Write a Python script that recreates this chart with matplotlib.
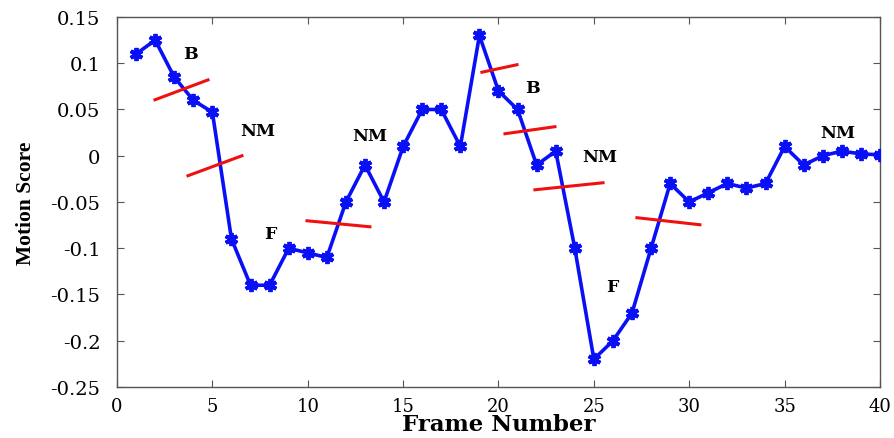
import numpy as np
import matplotlib.pyplot as plt

plt.rcParams['font.family'] = ['DejaVu Serif']

frames = np.arange(1, 41)
motion_score = [0.11, 0.125, 0.085, 0.06, 0.047, -0.09, -0.14, -0.14, -0.10, -0.105,
                -0.11, -0.05, -0.01, -0.05, 0.01, 0.05, 0.05, 0.01, 0.13, 0.07,
                0.05, -0.01, 0.005, -0.10, -0.22, -0.20, -0.17, -0.10, -0.03, -0.05,
                -0.04, -0.03, -0.035, -0.03, 0.01, -0.01, 0.0, 0.005, 0.002, 0.001]

# red boundary segments between motion phases: (x0, y0, x1, y1)
boundaries = [
    (1.99, 0.0605, 4.77, 0.082),
    (3.72, -0.0216, 6.55, 0.0),
    (9.96, -0.0703, 13.26, -0.0768),
    (19.13, 0.0903, 20.97, 0.0984),
    (20.34, 0.0238, 22.96, 0.0314),
    (21.91, -0.0368, 25.48, -0.0292),
    (27.26, -0.067, 30.56, -0.0746),
]

# phase labels: (x, y, text)
phase_labels = [
    (3.83, 0.110, 'B'),
    (7.39, 0.027, 'NM'),
    (13.26, 0.022, 'NM'),
    (8.02, -0.084, 'F'),
    (21.8, 0.074, 'B'),
    (25.3, -0.001, 'NM'),
    (25.95, -0.141, 'F'),
    (37.8, 0.025, 'NM'),
]

fig = plt.figure(figsize=(8.94, 4.39), dpi=100)
ax = fig.add_axes([0.1309, 0.1162, 0.8534, 0.8428])

ax.plot(frames, motion_score, color='#0a10f5', linewidth=2.6,
        marker=(6, 2, 0), markersize=9.5, markeredgewidth=2.8, zorder=3)

for x0, y0, x1, y1 in boundaries:
    ax.plot([x0, x1], [y0, y1], color='#f01010', linewidth=2.2, zorder=4)

for x, y, s in phase_labels:
    ax.text(x, y, s, ha='center', va='center', fontsize=12.5, fontweight='bold')

ax.set_xlim(0, 40)
ax.set_ylim(-0.25, 0.15)
ax.set_xticks(np.arange(0, 41, 5))
ax.set_yticks(np.arange(-0.25, 0.151, 0.05))
ax.set_yticklabels(['-0.25', '-0.2', '-0.15', '-0.1', '-0.05', '0', '0.05', '0.1', '0.15'])

ax.tick_params(direction='in', top=True, right=True, length=5, color='#555555')
ax.tick_params(axis='x', labelsize=13, pad=7)
ax.tick_params(axis='y', labelsize=14, pad=12)
for sp in ax.spines.values():
    sp.set_color('#555555')
    sp.set_linewidth(1.0)

ax.set_xlabel('Frame Number', fontsize=16.5, fontweight='bold', labelpad=-1)
ax.set_ylabel('Motion Score', family='Liberation Serif', fontsize=15.5,
              fontweight='bold', labelpad=10)

fig.savefig('out.png', dpi=100)
